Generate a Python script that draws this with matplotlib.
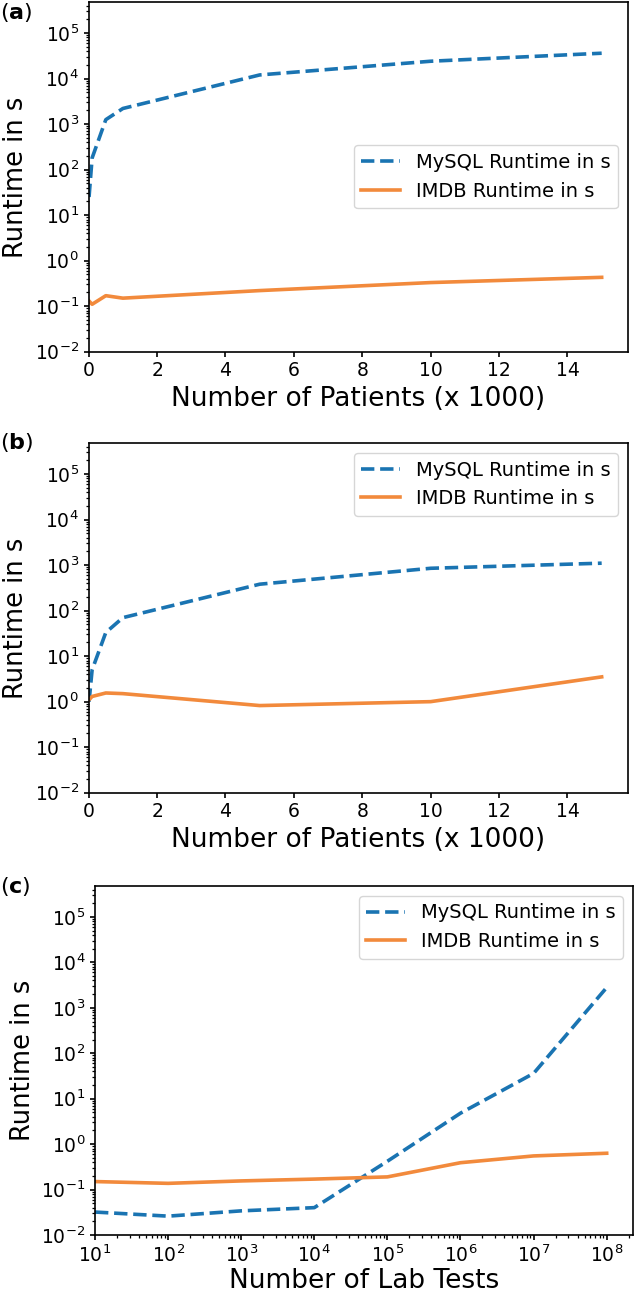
import matplotlib
matplotlib.use("Agg")
import matplotlib.pyplot as plt
import numpy as np
from matplotlib.ticker import LogLocator, NullFormatter

# (a) and (b): number of patients (x 1000)
patients = [0.01, 0.1, 0.5, 1, 5, 10, 15]
mysql_a = [25, 180, 1250, 2200, 12000, 24000, 36000]
imdb_a = [0.13, 0.11, 0.17, 0.15, 0.22, 0.33, 0.43]
mysql_b = [1.0, 5, 33, 70, 380, 850, 1100]
imdb_b = [1.1, 1.3, 1.55, 1.5, 0.82, 1.0, 3.5]

# (c): number of lab tests
lab_tests = [1e1, 1e2, 1e3, 1e4, 1e5, 1e6, 1e7, 1e8]
mysql_c = [0.032, 0.026, 0.034, 0.040, 0.42, 4.8, 36, 2800]
imdb_c = [0.15, 0.137, 0.155, 0.17, 0.19, 0.39, 0.55, 0.63]

y_ticks = [10.0 ** k for k in range(-2, 6)]
x_ticks_c = [10.0 ** k for k in range(1, 9)]

BLUE = "#1a74b2"
ORANGE = "#f28a3c"

W, H = 634, 1293


def px_axes(fig, left, top, right, bottom):
    return fig.add_axes([left / W, 1 - bottom / H, (right - left) / W, (bottom - top) / H])


def plot_panel(ax, x, mysql, imdb, xlabel, legend_loc, logx=False, labelpad=4):
    ax.plot(x, mysql, "--", color=BLUE, lw=2.6, label="MySQL Runtime in s")
    ax.plot(x, imdb, "-", color=ORANGE, lw=2.6, label="IMDB Runtime in s")
    ax.set_yscale("log")
    ax.set_ylim(1e-2, 4.8e5)
    ax.set_yticks(y_ticks)
    ax.yaxis.set_minor_locator(LogLocator(base=10, subs=np.arange(2, 10), numticks=100))
    ax.yaxis.set_minor_formatter(NullFormatter())
    if logx:
        ax.set_xscale("log")
        ax.set_xlim(10, 10 ** 8.36)
        ax.set_xticks(x_ticks_c)
        ax.xaxis.set_minor_locator(LogLocator(base=10, subs=np.arange(2, 10), numticks=100))
        ax.xaxis.set_minor_formatter(NullFormatter())
    else:
        ax.set_xlim(0, 15.77)
        ax.set_xticks(range(0, 15, 2))
    ax.tick_params(labelsize=13.5, width=1.2)
    ax.tick_params(which="minor", width=0.9)
    for s in ax.spines.values():
        s.set_linewidth(1.2)
    ax.set_xlabel(xlabel, fontsize=19, labelpad=labelpad)
    ax.set_ylabel("Runtime in s", fontsize=18.5)
    ax.legend(loc=legend_loc, fontsize=14, handlelength=2.0)


fig = plt.figure(figsize=(W / 100, H / 100), dpi=100)

ax_a = px_axes(fig, 88.7, 2, 628, 351.7)
plot_panel(ax_a, patients, mysql_a, imdb_a, "Number of Patients (x 1000)", "center right")

ax_b = px_axes(fig, 88.7, 443, 628, 792.7)
plot_panel(ax_b, patients, mysql_b, imdb_b, "Number of Patients (x 1000)", "upper right")

ax_c = px_axes(fig, 95, 886, 633, 1235)
plot_panel(ax_c, lab_tests, mysql_c, imdb_c, "Number of Lab Tests", "upper right",
           logx=True, labelpad=1)

for label, y in [("a", 1), ("b", 431), ("c", 875)]:
    fig.text(0.5 / W, 1 - y / H, r"($\mathbf{" + label + "}$)", fontsize=16, va="top", ha="left")

fig.savefig("out.png", dpi=100)
